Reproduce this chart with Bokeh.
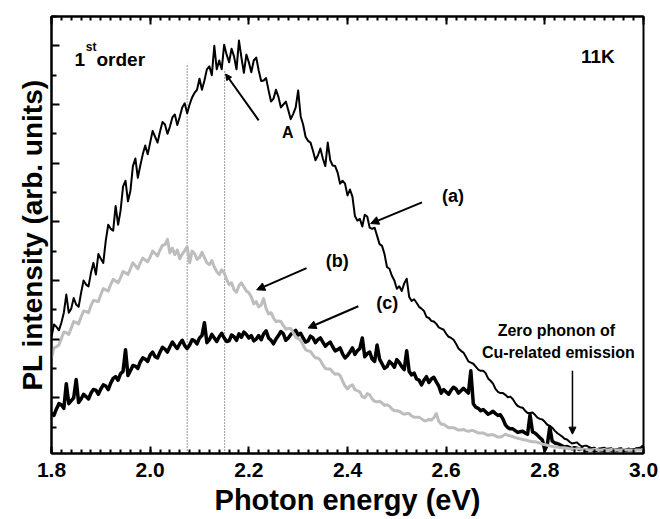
from bokeh.plotting import figure
from bokeh.models import (Range1d, LinearAxis, FixedTicker, Label, Arrow,
                          NormalHead, NumeralTickFormatter, CustomJSTickFormatter)
from bokeh.embed import file_html
from bokeh.resources import INLINE

# Photon energy (eV), main samples
energy = [1.80, 1.81, 1.82, 1.83, 1.84, 1.85, 1.86, 1.87, 1.88, 1.89,
          1.90, 1.91, 1.92, 1.93, 1.94, 1.95, 1.96, 1.97, 1.98, 1.99,
          2.00, 2.01, 2.02, 2.03, 2.04, 2.05, 2.06, 2.07, 2.08, 2.09,
          2.10, 2.11, 2.12, 2.13, 2.14, 2.15, 2.16, 2.17, 2.18, 2.19,
          2.20, 2.21, 2.22, 2.23, 2.24, 2.25, 2.26, 2.27, 2.28, 2.29,
          2.30, 2.31, 2.32, 2.33, 2.34, 2.35, 2.36, 2.37, 2.38, 2.39,
          2.40, 2.41, 2.42, 2.43, 2.44, 2.45, 2.46, 2.47, 2.48, 2.49,
          2.50, 2.51, 2.52, 2.53, 2.54, 2.55, 2.56, 2.57, 2.58, 2.59,
          2.60, 2.61, 2.62, 2.63, 2.64, 2.65, 2.66, 2.67, 2.68, 2.69,
          2.70, 2.71, 2.72, 2.73, 2.74, 2.75, 2.76, 2.77, 2.78, 2.79,
          2.80, 2.81, 2.82, 2.83, 2.84, 2.85, 2.86, 2.87, 2.88, 2.89,
          2.90, 2.91, 2.92, 2.93, 2.94, 2.95, 2.96, 2.97, 2.98, 2.99,
          3.00]

# PL intensity (arb. units), spectrum (a) at the main samples
pl_a = [2.04, 2.21, 2.28, 2.76, 2.52, 2.59, 2.79, 2.93, 3.13, 3.10,
        3.37, 3.68, 3.88, 4.27, 4.19, 4.70, 4.53, 5.08, 4.96, 5.30,
        5.35, 5.45, 5.54, 5.66, 5.62, 5.83, 5.79, 6.02, 6.00, 6.20,
        6.44, 6.41, 6.65, 7.00, 6.75, 7.02, 6.72, 6.82, 7.09, 6.54,
        6.72, 6.75, 6.58, 6.41, 6.24, 6.10, 6.13, 6.00, 5.90, 5.84,
        6.24, 5.66, 5.38, 5.21, 5.13, 5.08, 5.35, 4.96, 4.84, 4.70,
        4.45, 4.43, 4.02, 3.92, 4.09, 3.88, 3.76, 3.59, 3.23, 3.08,
        2.86, 2.82, 3.03, 2.65, 2.62, 2.52, 2.38, 2.31, 2.26, 2.18,
        2.09, 2.02, 1.92, 1.80, 1.70, 1.60, 1.53, 1.46, 1.42, 1.29,
        1.15, 1.08, 1.05, 1.02, 0.91, 0.84, 0.78, 0.74, 0.71, 0.64,
        0.59, 0.52, 0.44, 0.37, 0.30, 0.25, 0.23, 0.20, 0.18, 0.16,
        0.15, 0.13, 0.15, 0.13, 0.11, 0.13, 0.11, 0.13, 0.11, 0.13,
        0.16]
# spectrum (a) halfway between the main samples (noise band)
pl_a_mid = [2.25, 2.15, 2.45, 2.45, 2.70, 2.55, 3.00, 2.90, 3.30, 3.45,
            3.30, 3.95, 3.85, 3.95, 4.60, 4.35, 4.95, 4.75, 5.15, 5.15,
            5.55, 5.35, 5.70, 5.50, 5.78, 5.65, 5.95, 5.85, 6.12, 6.25,
            6.25, 6.60, 6.50, 6.60, 6.60, 6.85, 6.95, 6.60, 6.80, 6.85,
            6.55, 6.80, 6.40, 6.45, 6.05, 6.25, 5.95, 6.05, 5.75, 5.95,
            5.80, 5.45, 5.35, 5.05, 5.25, 4.95, 5.05, 4.95, 4.65, 4.65,
            4.55, 4.10, 4.05, 4.12, 3.90, 3.90, 3.62, 3.45, 3.20, 3.00,
            2.90, 2.95, 2.72, 2.68, 2.55, 2.48, 2.36, 2.30, 2.20, 2.16,
            2.04, 1.99, 1.84, 1.77, 1.62, 1.58, 1.48, 1.46, 1.33, 1.24,
            1.10, 1.08, 1.01, 0.98, 0.86, 0.83, 0.74, 0.75, 0.66, 0.63,
            0.54, 0.49, 0.40, 0.34, 0.29, 0.22, 0.24, 0.17, 0.18, 0.14,
            0.12, 0.14, 0.12, 0.14, 0.12, 0.14, 0.12, 0.12, 0.14, 0.12]

# spectrum (b), grey
pl_b = [1.68, 1.87, 2.01, 2.11, 2.19, 2.28, 2.38, 2.47, 2.57, 2.65,
        2.76, 2.84, 2.93, 2.99, 3.05, 3.13, 3.20, 3.25, 3.30, 3.35,
        3.40, 3.46, 3.52, 3.61, 3.47, 3.44, 3.37, 3.51, 3.30, 3.46,
        3.39, 3.39, 3.27, 3.23, 3.10, 3.13, 2.93, 2.84, 2.91, 2.89,
        2.79, 2.60, 2.55, 2.69, 2.43, 2.36, 2.31, 2.23, 2.18, 2.11,
        2.01, 1.90, 1.80, 1.73, 1.68, 1.56, 1.49, 1.44, 1.41, 1.29,
        1.15, 1.22, 1.12, 1.02, 1.07, 0.98, 0.93, 0.91, 0.88, 0.81,
        0.78, 0.74, 0.73, 0.69, 0.67, 0.64, 0.61, 0.62, 0.73, 0.55,
        0.52, 0.49, 0.47, 0.45, 0.44, 0.44, 0.42, 0.40, 0.38, 0.37,
        0.35, 0.33, 0.38, 0.35, 0.32, 0.30, 0.28, 0.26, 0.25, 0.23,
        0.20, 0.18, 0.16, 0.15, 0.15, 0.13, 0.12, 0.13, 0.12, 0.11,
        0.12, 0.11, 0.12, 0.11, 0.10, 0.11, 0.12, 0.11, 0.10, 0.11,
        0.12]
pl_b_mid = [1.85, 1.90, 2.12, 2.08, 2.30, 2.26, 2.48, 2.45, 2.66, 2.64,
            2.86, 2.82, 3.02, 2.96, 3.15, 3.10, 3.30, 3.20, 3.38, 3.32,
            3.50, 3.42, 3.60, 3.70, 3.55, 3.52, 3.45, 3.58, 3.50, 3.36,
            3.48, 3.30, 3.34, 3.15, 3.18, 3.02, 2.96, 2.80, 2.96, 2.82,
            2.72, 2.64, 2.58, 2.52, 2.45, 2.30, 2.30, 2.17, 2.18, 2.03,
            1.98, 1.82, 1.79, 1.68, 1.64, 1.50, 1.49, 1.40, 1.38, 1.20,
            1.20, 1.14, 1.10, 1.00, 1.05, 0.94, 0.94, 0.87, 0.86, 0.78,
            0.77, 0.72, 0.73, 0.67, 0.67, 0.61, 0.63, 0.66, 0.60, 0.55,
            0.49, 0.49, 0.45, 0.46, 0.43, 0.44, 0.40, 0.40, 0.36, 0.37,
            0.33, 0.35, 0.36, 0.34, 0.31, 0.29, 0.27, 0.25, 0.24, 0.21,
            0.19, 0.17, 0.16, 0.15, 0.14, 0.13, 0.13, 0.12, 0.12, 0.11,
            0.12, 0.11, 0.11, 0.12, 0.11, 0.11, 0.11, 0.11, 0.11, 0.11]

# spectrum (c), thick black
pl_c = [0.74, 0.81, 0.88, 1.24, 0.95, 1.31, 0.98, 1.02, 1.08, 1.13,
        1.15, 1.20, 1.25, 1.36, 1.41, 1.82, 1.46, 1.54, 1.61, 1.66,
        1.73, 1.70, 1.78, 1.83, 1.87, 1.89, 1.92, 1.89, 1.90, 1.97,
        2.02, 2.28, 1.99, 2.02, 2.04, 2.02, 1.97, 2.04, 2.09, 2.12,
        2.02, 1.97, 2.06, 2.09, 2.02, 1.92, 2.06, 2.09, 2.02, 2.12,
        2.07, 2.02, 1.97, 2.02, 1.99, 1.95, 1.92, 1.87, 1.82, 1.75,
        1.72, 1.85, 1.80, 2.02, 1.75, 1.66, 1.90, 1.58, 1.53, 1.58,
        1.65, 1.53, 1.80, 1.39, 1.32, 1.22, 1.36, 1.32, 1.27, 1.08,
        1.10, 1.13, 1.15, 1.12, 1.12, 1.46, 0.84, 0.78, 0.76, 0.74,
        0.73, 0.71, 0.54, 0.47, 0.44, 0.42, 0.40, 0.71, 0.40, 0.32,
        0.11, 0.50, 0.23, 0.20, 0.16, 0.15, 0.15, 0.12, 0.11, 0.13,
        0.10, 0.12, 0.11, 0.12, 0.10, 0.12, 0.11, 0.12, 0.11, 0.13,
        0.18]
pl_c_mid = [0.70, 0.90, 0.82, 0.90, 1.00, 0.92, 1.06, 0.98, 1.14, 1.06,
            1.22, 1.14, 1.33, 1.30, 1.45, 1.38, 1.55, 1.50, 1.68, 1.62,
            1.78, 1.68, 1.86, 1.78, 1.95, 1.84, 1.98, 1.84, 1.99, 1.92,
            2.06, 1.94, 2.08, 1.96, 2.10, 1.96, 2.07, 1.98, 2.03, 2.08,
            2.06, 2.00, 1.99, 2.14, 1.98, 2.00, 2.13, 1.98, 2.08, 2.15,
            2.10, 1.95, 2.05, 1.94, 2.02, 1.88, 1.95, 1.80, 1.85, 1.68,
            1.78, 1.74, 1.84, 1.70, 1.78, 1.62, 1.66, 1.50, 1.62, 1.52,
            1.60, 1.48, 1.45, 1.42, 1.30, 1.30, 1.26, 1.35, 1.20, 1.14,
            1.06, 1.18, 1.08, 1.16, 1.08, 0.90, 0.82, 0.80, 0.72, 0.77,
            0.70, 0.64, 0.49, 0.47, 0.41, 0.43, 0.38, 0.42, 0.36, 0.28,
            0.20, 0.26, 0.22, 0.18, 0.17, 0.13, 0.14, 0.13, 0.10, 0.12,
            0.11, 0.10, 0.12, 0.11, 0.10, 0.12, 0.10, 0.11, 0.12, 0.14]

# marked peak positions (dotted lines)
peak_energy = [2.075, 2.151]
peak_top = [6.70, 6.60]

x_ticks = [1.8, 2.0, 2.2, 2.4, 2.6, 2.8, 3.0]
y_ticks = [1, 2, 3, 4, 5, 6, 7]


def interleave(main, mid):
    out = []
    for i, v in enumerate(main):
        out.append(v)
        if i < len(mid):
            out.append(mid[i])
    return out


energy_mid = [round(e + 0.005, 3) for e in energy[:-1]]
E_all = interleave(energy, energy_mid)
A_all = interleave(pl_a, pl_a_mid)
B_all = interleave(pl_b, pl_b_mid)
C_all = interleave(pl_c, pl_c_mid)

FONT = "Liberation Sans"

p = figure(width=660, height=519, output_backend="svg", toolbar_location=None,
           x_range=Range1d(1.8, 3.0), y_range=Range1d(0.05, 7.5),
           min_border_left=51, min_border_right=17, min_border_top=16,
           min_border_bottom=66)
p.background_fill_color = "white"
p.border_fill_color = "white"
p.xgrid.visible = False
p.ygrid.visible = False
p.outline_line_color = "black"
p.outline_line_width = 2
p.outline_line_alpha = 1.0

x_minor = [round(1.8 + 0.02 * i, 2) for i in range(61)]
y_minor = [0.5 + i for i in range(8)]
blank = CustomJSTickFormatter(code="return ''")

xa = p.xaxis[0]
xa.ticker = FixedTicker(ticks=x_ticks, minor_ticks=x_minor)
xa.formatter = NumeralTickFormatter(format="0.0")
xa.axis_line_width = 2
xa.major_tick_in = 7
xa.major_tick_out = 0
xa.minor_tick_in = 4
xa.minor_tick_out = 0
xa.major_tick_line_width = 2
xa.minor_tick_line_width = 2
xa.major_label_text_font = FONT
xa.major_label_text_font_style = "bold"
xa.major_label_text_font_size = "21px"
xa.major_label_text_color = "black"
xa.major_label_standoff = 9
xa.axis_label = "Photon energy (eV)"
xa.axis_label_text_font = FONT
xa.axis_label_text_font_style = "bold"
xa.axis_label_text_font_size = "29px"
xa.axis_label_text_color = "black"
xa.axis_label_standoff = 4

ya = p.yaxis[0]
ya.ticker = FixedTicker(ticks=y_ticks, minor_ticks=y_minor)
ya.formatter = blank
ya.axis_line_width = 2
ya.major_tick_in = 8
ya.major_tick_out = 0
ya.minor_tick_in = 5
ya.minor_tick_out = 0
ya.major_tick_line_width = 2
ya.minor_tick_line_width = 2
ya.major_label_standoff = 0
ya.axis_label = "PL intensity (arb. units)"
ya.axis_label_text_font = FONT
ya.axis_label_text_font_style = "bold"
ya.axis_label_text_font_size = "28px"
ya.axis_label_text_color = "black"
ya.axis_label_standoff = 4

top = LinearAxis(ticker=FixedTicker(ticks=x_ticks, minor_ticks=x_minor),
                 formatter=CustomJSTickFormatter(code="return ''"))
top.axis_line_width = 2
top.major_tick_in = 8
top.major_tick_out = 0
top.minor_tick_in = 4
top.minor_tick_out = 0
top.major_tick_line_width = 2
top.minor_tick_line_width = 2
top.major_label_standoff = 0
p.add_layout(top, "above")

# dotted marker lines
p.segment(x0=peak_energy, y0=[0.05, 0.05], x1=peak_energy, y1=peak_top,
          line_color="#333333", line_width=1, line_dash="1 2")

# spectra
p.line(E_all, C_all, line_color="black", line_width=3.5, line_join="round")
p.line(E_all, A_all, line_color="black", line_width=2, line_join="round")
p.line(E_all, B_all, line_color="#bdbdbd", line_width=3, line_join="round")


def txt(x, y, s, size, align="center", baseline="middle"):
    p.add_layout(Label(x=x, y=y, text=s, text_font=FONT, text_font_style="bold",
                       text_font_size=size, text_color="black",
                       text_align=align, text_baseline=baseline))


def arr(x0, y0, x1, y1, w=2, size=8):
    p.add_layout(Arrow(end=NormalHead(size=size, fill_color="black", line_color="black"),
                       x_start=x0, y_start=y0, x_end=x1, y_end=y1,
                       line_color="black", line_width=w))


txt(1.8466, 6.761, "1", "19px", align="left", baseline="alphabetic")
txt(1.8695, 6.988, "st", "12px", align="left", baseline="alphabetic")
txt(1.8912, 6.761, "order", "19px", align="left", baseline="alphabetic")
txt(2.9419, 6.817, "11K", "19px", align="right", baseline="alphabetic")

txt(2.279, 5.53, "A", "16px")
txt(2.614, 4.445, "(a)", "18px")
txt(2.3794, 3.328, "(b)", "18px")
txt(2.4807, 2.611, "(c)", "18px")
txt(2.8233, 2.142, "Zero phonon of", "16px", baseline="alphabetic")
txt(2.8274, 1.771, "Cu-related emission", "16px", baseline="alphabetic")

arr(2.220, 5.73, 2.153, 6.52, w=2, size=6)
arr(2.551, 4.33, 2.447, 3.97)
arr(2.317, 3.21, 2.216, 2.84)
arr(2.422, 2.56, 2.320, 2.19)
arr(2.856, 1.46, 2.856, 0.38, w=1.5, size=7)

open("out.html", "w").write(file_html(p, INLINE))
